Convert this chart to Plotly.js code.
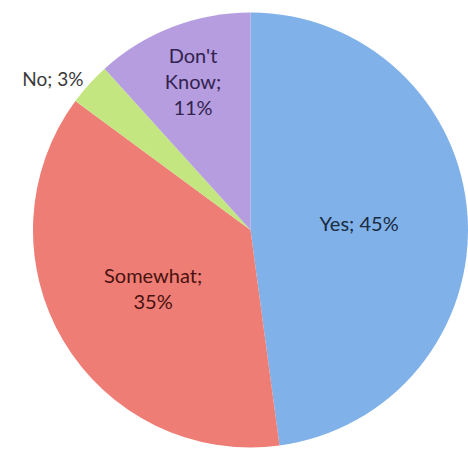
<!DOCTYPE html>
<html>
<head>
<meta charset="utf-8">
<script src="https://cdn.plot.ly/plotly-3.0.1.min.js"></script>
<style>html,body{margin:0;padding:0;background:#fff;}#chart{width:468px;height:460px;}</style>
</head>
<body>
<div id="chart"></div>
<script>
const categories = ["Yes", "Somewhat", "No", "Don't Know"];
const shares = [45, 35, 3, 11];
const labelTemplates = [
  "%{label}; %{value}%",
  "%{label};<br>%{value}%",
  "%{label}; %{value}%",
  "Don't<br>Know;<br>%{value}%"
];
const sliceColors = ["#80b1e9", "#ee7d75", "#c4e680", "#b59de0"];
const textColors = ["#1a2a40", "#4a1210", "#3a3a3a", "#33234f"];

Plotly.newPlot("chart", [{
  type: "pie",
  labels: categories,
  values: shares,
  sort: false,
  direction: "clockwise",
  rotation: 0,
  texttemplate: labelTemplates,
  textposition: ["inside", "inside", "outside", "inside"],
  insidetextorientation: "horizontal",
  textfont: {family: "Lato, 'Open Sans', sans-serif", size: 20, color: textColors},
  outsidetextfont: {family: "Lato, 'Open Sans', sans-serif", size: 19, color: "#3a3a3a"},
  marker: {colors: sliceColors, line: {width: 0}},
  hoverinfo: "none",
  showlegend: false,
  domain: {x: [0.0705, 1], y: [0, 1]}
}], {
  width: 468, height: 460,
  margin: {l: 0, r: 0, t: 6, b: 6},
  paper_bgcolor: "#ffffff",
  showlegend: false
}, {displayModeBar: false, staticPlot: true});
</script>
</body>
</html>
